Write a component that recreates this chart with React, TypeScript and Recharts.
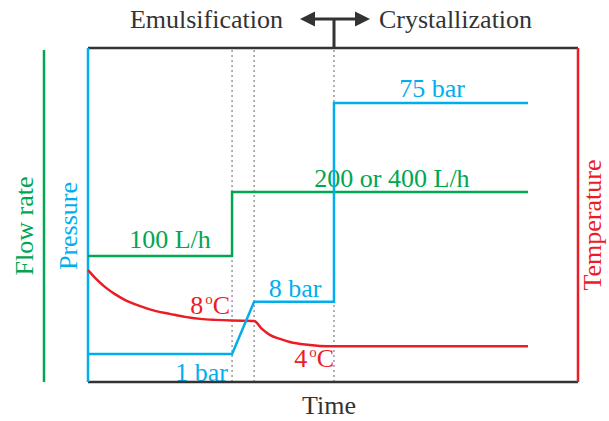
import React from "react";
import { ComposedChart, Line, XAxis, YAxis, ReferenceLine } from "recharts";

// Time axis in arbitrary units (0..100), values in arbitrary units (0..100)
const flowTime = [0, 29.4, 29.4, 89.8];
const flowValues = [37.7, 37.7, 56.9, 56.9];

const pressureTime = [0, 29.4, 33.9, 50.2, 50.2, 89.8];
const pressureValues = [8.4, 8.4, 24.0, 24.0, 83.5, 83.5];

const tempTime = [0, 1.5, 3.5, 5.5, 7.5, 10.5, 13.7, 16.7, 19.8, 22.9, 25.9, 29.4, 33.9, 35.5, 37.1, 39.2, 41.2, 44.3, 47.3, 50.2, 89.8];
const tempValues = [33.5, 31.1, 28.4, 26.3, 24.6, 22.8, 21.3, 20.4, 19.5, 18.9, 18.6, 18.4, 18.3, 15.9, 14.1, 12.9, 12.0, 11.2, 10.8, 10.7, 10.7];

const phaseBoundaries = [29.4, 33.9, 50.2];

const GREEN = "#00a651";
const BLUE = "#00aeef";
const RED = "#ed1c24";
const DARK = "#333333";
const FONT = "'Liberation Serif', 'Times New Roman', serif";

const toRows = (ts: number[], vs: number[]) => ts.map((t, i) => ({ t, v: vs[i] }));

export default function App() {
  const flow = toRows(flowTime, flowValues);
  const pressure = toRows(pressureTime, pressureValues);
  const temp = toRows(tempTime, tempValues);
  const fs = 26;
  return (
    <div style={{ position: "absolute", left: 0, top: 0 }}>
      <ComposedChart width={609} height={421} margin={{ top: 48, right: 31, bottom: 39, left: 88 }}>
        <XAxis type="number" dataKey="t" domain={[0, 100]} hide allowDuplicatedCategory={false} />
        <YAxis type="number" domain={[0, 100]} hide />
        {phaseBoundaries.map((x) => (
          <ReferenceLine key={x} x={x} stroke="#666" strokeWidth={1} strokeDasharray="2 3" />
        ))}
        <ReferenceLine y={100} stroke={DARK} strokeWidth={2.5} />
        <ReferenceLine y={0} stroke={DARK} strokeWidth={2.5} />
        <ReferenceLine x={0} stroke={BLUE} strokeWidth={2.5} />
        <ReferenceLine x={100} stroke={RED} strokeWidth={2.5} />
        <Line data={flow} dataKey="v" type="linear" stroke={GREEN} strokeWidth={2.5} dot={false} isAnimationActive={false} />
        <Line data={temp} dataKey="v" type="monotone" stroke={RED} strokeWidth={2.5} dot={false} isAnimationActive={false} />
        <Line data={pressure} dataKey="v" type="linear" stroke={BLUE} strokeWidth={2.5} dot={false} isAnimationActive={false} />

        <line x1={44} y1={50} x2={44} y2={382} stroke={GREEN} strokeWidth={2.5} />
        <line x1={334} y1={19} x2={334} y2={48} stroke={DARK} strokeWidth={3} />
        <line x1={310} y1={19} x2={360} y2={19} stroke={DARK} strokeWidth={3} />
        <polygon points="300,19 315,11.5 315,26.5" fill={DARK} />
        <polygon points="370,19 355,11.5 355,26.5" fill={DARK} />

        <g fontFamily={FONT} fontSize={fs}>
          <text x={283} y={28} textAnchor="end" fill={DARK}>Emulsification</text>
          <text x={379} y={28} textAnchor="start" fill={DARK}>Crystallization</text>
          <text x={329} y={414} textAnchor="middle" fill={DARK}>Time</text>
          <text x={0} y={0} transform="translate(33,226) rotate(-90)" textAnchor="middle" fill={GREEN}>Flow rate</text>
          <text x={0} y={0} transform="translate(77,226) rotate(-90)" textAnchor="middle" fill={BLUE}>Pressure</text>
          <text x={0} y={0} transform="translate(601,225) rotate(-90)" textAnchor="middle" fill={RED}>Temperature</text>
          <text x={170} y={248} textAnchor="middle" fill={GREEN}>100 L/h</text>
          <text x={392} y={187} textAnchor="middle" fill={GREEN}>200 or 400 L/h</text>
          <text x={432} y={97} textAnchor="middle" fill={BLUE}>75 bar</text>
          <text x={295} y={297} textAnchor="middle" fill={BLUE}>8 bar</text>
          <text x={228} y={381} textAnchor="end" fill={BLUE}>1 bar</text>
          <text x={230} y={314} textAnchor="end" fill={RED}>
            8<tspan dx={2} dy={-10} fontSize={15}>o</tspan><tspan dy={10}>C</tspan>
          </text>
          <text x={334} y={367} textAnchor="end" fill={RED}>
            4<tspan dx={2} dy={-10} fontSize={15}>o</tspan><tspan dy={10}>C</tspan>
          </text>
        </g>
      </ComposedChart>
    </div>
  );
}
